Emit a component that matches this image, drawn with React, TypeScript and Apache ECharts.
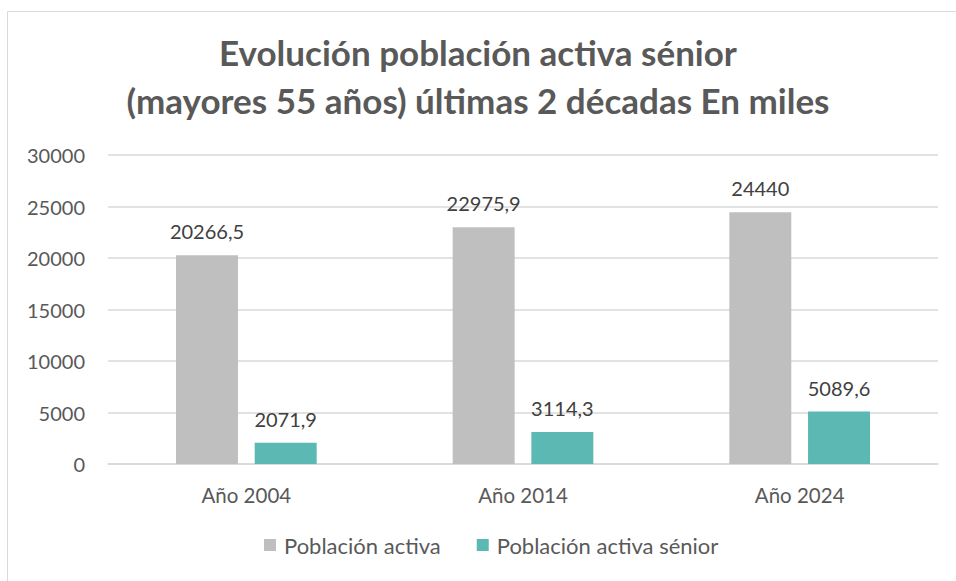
import React, { useEffect, useRef } from "react";
import * as echarts from "echarts";

const categories = ["Año 2004", "Año 2014", "Año 2024"];
const poblacionActiva = [20266.5, 22975.9, 24440];
const poblacionSenior = [2071.9, 3114.3, 5089.6];
const seriesNames = ["Población activa", "Población activa sénior"];
const yTicks = { min: 0, max: 30000, interval: 5000 };

const fmt = (v: number) => String(v).replace(".", ",");

export default function App() {
  const ref = useRef<HTMLDivElement>(null);
  useEffect(() => {
    document.body.style.margin = "0";
    if (!ref.current) return;
    const chart = echarts.init(ref.current, undefined, { renderer: "svg" });
    const font = "Lato, 'Open Sans', sans-serif";
    chart.setOption({
      animation: false,
      backgroundColor: "#ffffff",
      textStyle: { fontFamily: font },
      graphic: [
        {
          type: "rect",
          shape: { x: 7.5, y: 11.5, width: 980, height: 600 },
          style: { fill: "none", stroke: "#d9d9d9", lineWidth: 1 },
          silent: true,
        },
      ],
      title: {
        text: "Evolución población activa sénior\n(mayores 55 años) últimas 2 décadas En miles",
        left: "center",
        top: 23,
        padding: [5, 5, 5, 24],
        textStyle: {
          fontFamily: font,
          fontSize: 35,
          fontWeight: "bold",
          color: "#595959",
          lineHeight: 48,
        },
      },
      legend: {
        data: seriesNames,
        bottom: 20,
        left: 259,
        itemWidth: 12,
        itemHeight: 12,
        itemGap: 36,
        icon: "rect",
        textStyle: { fontFamily: font, fontSize: 22, color: "#595959", padding: [0, 0, 0, 3] },
      },
      grid: { left: 108, right: 18, top: 155, bottom: 117 },
      xAxis: {
        type: "category",
        data: categories,
        axisLine: { lineStyle: { color: "#d9d9d9", width: 1.5 } },
        axisTick: { show: false },
        axisLabel: { fontFamily: font, fontSize: 20.5, color: "#595959", margin: 20 },
      },
      yAxis: {
        type: "value",
        min: yTicks.min,
        max: yTicks.max,
        interval: yTicks.interval,
        axisLine: { show: false },
        axisTick: { show: false },
        splitLine: { lineStyle: { color: "#d9d9d9", width: 1.5 } },
        axisLabel: {
          fontFamily: font,
          fontSize: 20,
          color: "#595959",
          margin: 23,
          formatter: (v: number) => String(v),
        },
      },
      series: [
        {
          name: seriesNames[0],
          type: "bar",
          data: poblacionActiva,
          barWidth: "22.4%",
          barGap: "27%",
          itemStyle: { color: "#bfbfbf" },
          label: {
            show: true,
            position: "top",
            distance: 14,
            fontFamily: font,
            fontSize: 20,
            color: "#404040",
            formatter: (p: any) => fmt(p.value),
          },
        },
        {
          name: seriesNames[1],
          type: "bar",
          data: poblacionSenior,
          barWidth: "22.4%",
          itemStyle: { color: "#5bb8b3" },
          label: {
            show: true,
            position: "top",
            distance: 14,
            fontFamily: font,
            fontSize: 20,
            color: "#404040",
            formatter: (p: any) => fmt(p.value),
          },
        },
      ],
    });
    return () => chart.dispose();
  }, []);
  return <div ref={ref} style={{ width: 956, height: 581 }} />;
}
